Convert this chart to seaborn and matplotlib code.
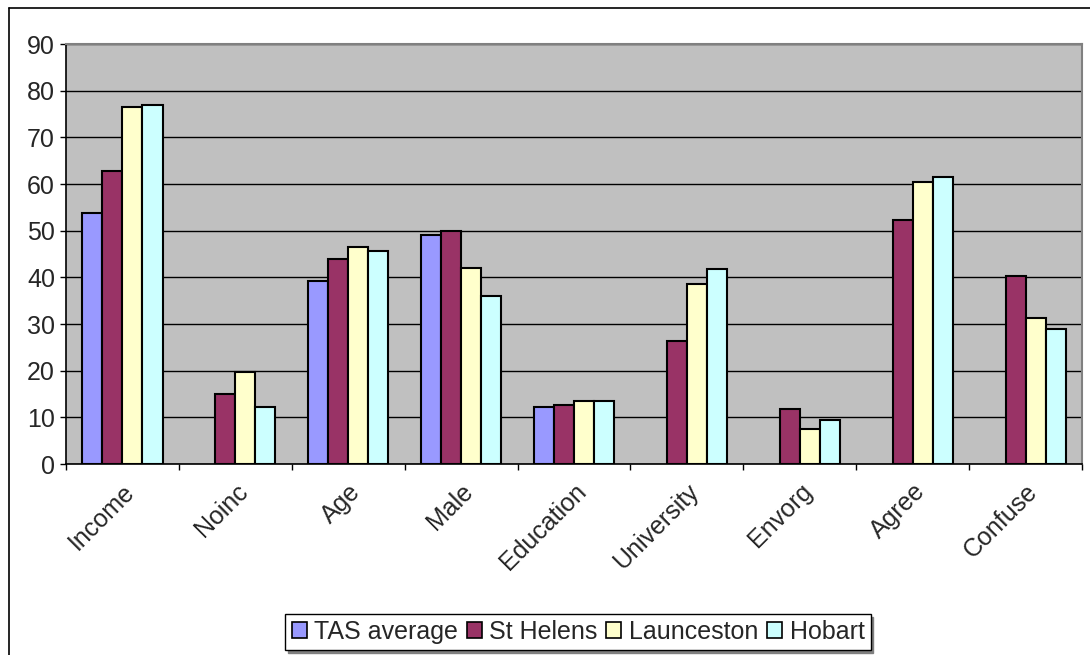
import numpy as np
import pandas as pd
import matplotlib
matplotlib.use("Agg")
import matplotlib.pyplot as plt
from matplotlib.patches import Rectangle
from matplotlib.lines import Line2D
import seaborn as sns

categories = ["Income", "Noinc", "Age", "Male", "Education", "University", "Envorg", "Agree", "Confuse"]
series_names = ["TAS average", "St Helens", "Launceston", "Hobart"]
tas_average = [53.8, np.nan, 39.2, 49.0, 12.3, np.nan, np.nan, np.nan, np.nan]
st_helens = [62.8, 14.9, 43.9, 50.0, 12.7, 26.4, 11.7, 52.3, 40.2]
launceston = [76.6, 19.7, 46.4, 42.1, 13.4, 38.5, 7.6, 60.5, 31.2]
hobart = [76.9, 12.3, 45.7, 35.9, 13.4, 41.7, 9.4, 61.5, 29.0]
yticks = [0, 10, 20, 30, 40, 50, 60, 70, 80, 90]
colors = ["#9999FF", "#993366", "#FFFFCC", "#CCFFFF"]

rows = []
for name, vals in zip(series_names, [tas_average, st_helens, launceston, hobart]):
    for c, v in zip(categories, vals):
        rows.append({"category": c, "series": name, "value": v})
df = pd.DataFrame(rows)

sns.set_theme(style="white")
plt.rcParams['font.family'] = ['Liberation Sans', 'DejaVu Sans']

FS = 18
W, H = 1090, 655
fig = plt.figure(figsize=(W / 100, H / 100), dpi=100)
ax = fig.add_axes([66 / W, (H - 464) / H, (1082 - 66) / W, (464 - 44) / H])
ax.set_facecolor("#C0C0C0")

sns.barplot(data=df, x="category", y="value", hue="series", order=categories,
            hue_order=series_names, palette=colors, saturation=1, width=0.71, gap=0,
            edgecolor="black", linewidth=1.5, ax=ax, legend=True)

ax.set_ylim(0, 90)
ax.set_xlim(-0.5, len(categories) - 0.5)
ax.set_yticks(yticks)
ax.set_yticklabels([str(t) for t in yticks], fontsize=FS)
ax.yaxis.grid(True, color="black", linewidth=1)
ax.set_axisbelow(True)
ax.tick_params(axis="y", which="major", direction="out", length=4.5, width=1, color="black", left=True, pad=3.5)
ax.set_xticks(range(len(categories)))
ax.set_xticklabels(categories, rotation=45, ha="right", rotation_mode="anchor", fontsize=FS)
ax.tick_params(axis="x", which="major", length=0, pad=11)
ax.set_xticks([i - 0.5 for i in range(len(categories) + 1)], minor=True)
ax.tick_params(axis="x", which="minor", direction="out", length=4.5, width=1, color="black", bottom=True)
ax.set_xlabel("")
ax.set_ylabel("")

for side in ["left", "bottom"]:
    ax.spines[side].set_color("black")
    ax.spines[side].set_linewidth(1.2)
for side in ["top", "right"]:
    ax.spines[side].set_color("#808080")
    ax.spines[side].set_linewidth(1.5)

ax.get_legend().remove()
handles = [Rectangle((0, 0), 1, 1, facecolor=c, edgecolor="black", linewidth=1.2) for c in colors]
leg = fig.legend(handles, series_names, loc="center", bbox_to_anchor=(578 / W, (H - 632) / H),
                 ncol=4, fontsize=FS, frameon=True, fancybox=False, edgecolor="black",
                 handlelength=0.6, handleheight=0.6, handletextpad=0.3, columnspacing=0.35,
                 borderpad=0.25, borderaxespad=0, shadow={"color": "#808080", "alpha": 1})
leg.get_frame().set_linewidth(1)

fig.lines.append(Line2D([8.5 / W, 8.5 / W], [0, 1 - 7.5 / H], transform=fig.transFigure,
                        color="black", linewidth=1.2))
fig.lines.append(Line2D([8.5 / W, 1], [1 - 7.5 / H, 1 - 7.5 / H], transform=fig.transFigure,
                        color="black", linewidth=1.2))

fig.savefig("out.png", dpi=100, facecolor="white")
